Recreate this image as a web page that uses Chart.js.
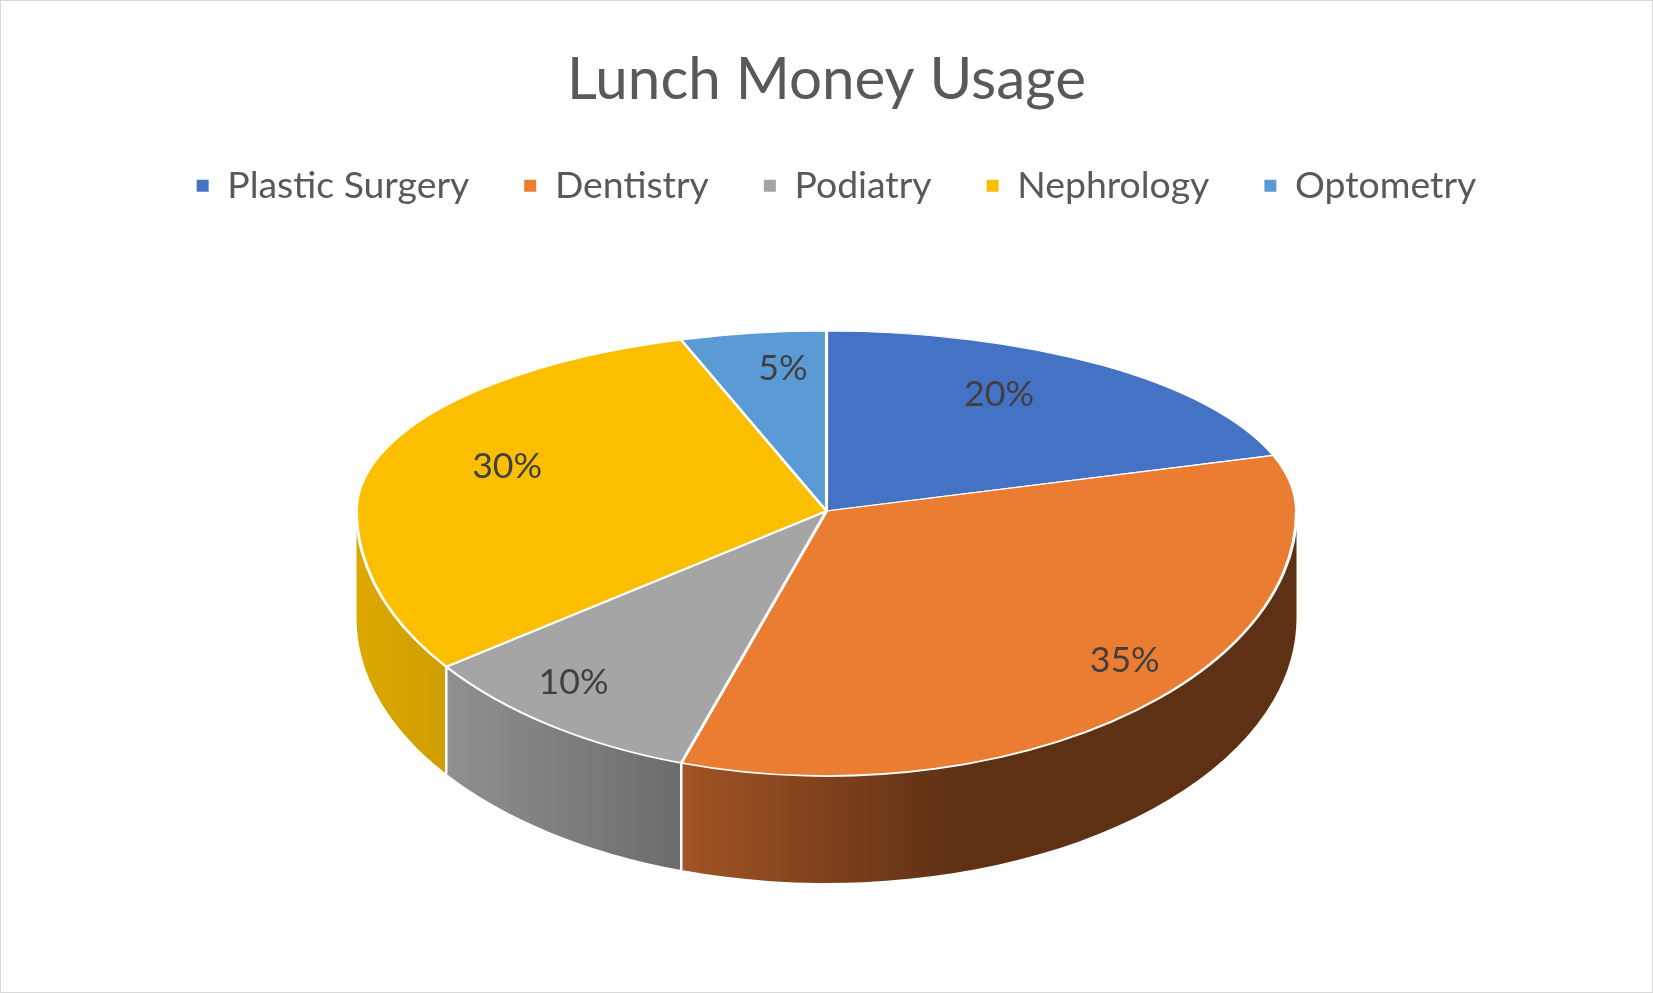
<!DOCTYPE html>
<html>
<head>
<meta charset="utf-8">
<title>Lunch Money Usage</title>
<script src="https://cdn.jsdelivr.net/npm/chart.js@4.4.1/dist/chart.umd.min.js"></script>
<style>
  html, body { margin: 0; padding: 0; background: #fff; }
  #wrap { width: 1653px; height: 993px; box-sizing: border-box; border: 1px solid #d9d9d9; }
</style>
</head>
<body>
<div id="wrap"><canvas id="pieChart" width="1651" height="991"></canvas></div>
<script>
// Data
const categories = ["Plastic Surgery", "Dentistry", "Podiatry", "Nephrology", "Optometry"];
const shares = [20, 35, 10, 30, 5];
const sliceColors = ["#4472C4", "#EB7D33", "#A5A5A5", "#FBBF00", "#5B9BD5"];
// side wall shading, light -> dark
const wallColors = [
    ["#2F528F", "#203864"],
    ["#A35425", "#5E3014"],
    ["#909090", "#6C6C6C"],
    ["#DCA800", "#CF9E00"],
    ["#41719C", "#2E5071"]
];

const FONT = "Lato, 'Open Sans', sans-serif";

// pick a font size so a string spans a given width
function fitSize(text, width) {
    const c = document.createElement("canvas").getContext("2d");
    c.font = "100px " + FONT;
    return 100 * width / c.measureText(text).width;
}
const titleSize = fitSize("Lunch Money Usage", 519);
const legendSize = fitSize("Plastic Surgery", 242);
const labelSize = fitSize("20%", 70);

// fake 3D: squash the pie into an ellipse and draw side walls under it
const pie3d = {
    id: "pie3d",
    afterLayout(chart, args, opts) {
        chart.legend.left += opts.legendShift;
        chart.legend.right += opts.legendShift;
    },
    beforeDatasetDraw(chart, args, opts) {
        const ctx = chart.ctx;
        const meta = args.meta;
        const first = meta.data[0];
        const px = first.x, py = first.y, r = first.outerRadius;
        const cx = chart.width / 2, cy = opts.cy;

        // walls on the front half
        const bounds = [];
        meta.data.forEach((arc, i) => {
            const a0 = Math.max(arc.startAngle, 0);
            const a1 = Math.min(arc.endAngle, Math.PI);
            if (a1 <= a0) return;
            const xl = cx + opts.rx * Math.cos(a1);
            const xr = cx + opts.rx * Math.cos(a0);
            const g = ctx.createLinearGradient(xl, 0, xr, 0);
            g.addColorStop(0, wallColors[i][0]);
            g.addColorStop(opts.wallStop[i], wallColors[i][1]);
            g.addColorStop(1, wallColors[i][1]);
            ctx.save();
            ctx.beginPath();
            ctx.ellipse(cx, cy, opts.rx, opts.ryBottom, 0, a0, a1);
            ctx.ellipse(cx, cy + opts.depth, opts.rx, opts.ryBottom, 0, a1, a0, true);
            ctx.closePath();
            ctx.fillStyle = g;
            ctx.fill();
            ctx.restore();
            if (a0 > 0) bounds.push(a0);
        });
        ctx.save();
        ctx.strokeStyle = "#fff";
        ctx.lineWidth = 2.5;
        bounds.forEach(a => {
            const x = cx + opts.rx * Math.cos(a);
            const y = cy + opts.ryBottom * Math.sin(a);
            ctx.beginPath();
            ctx.moveTo(x, y);
            ctx.lineTo(x, y + opts.depth);
            ctx.stroke();
        });
        ctx.restore();

        // top face: back half and front half with their own tilt
        [[opts.ryBottom, cy - 1, chart.height], [opts.ryTop, 0, cy + 0.5]].forEach(([ry, y0, y1]) => {
            ctx.save();
            ctx.beginPath();
            ctx.rect(0, y0, chart.width, y1 - y0);
            ctx.clip();
            ctx.translate(cx, cy);
            ctx.scale(opts.rx / r, ry / r);
            ctx.translate(-px, -py);
            meta.controller.draw();
            ctx.restore();
        });
        return false;
    },
    afterDraw(chart, args, opts) {
        const ctx = chart.ctx;
        const meta = chart.getDatasetMeta(0);
        const total = shares.reduce((s, v) => s + v, 0);
        const cx = chart.width / 2, cy = opts.cy;
        ctx.save();
        ctx.font = labelSize.toFixed(1) + "px " + FONT;
        ctx.fillStyle = "#404040";
        ctx.textAlign = "center";
        ctx.textBaseline = "middle";
        meta.data.forEach((arc, i) => {
            const a = (arc.startAngle + arc.endAngle) / 2;
            const s = Math.sin(a);
            const fx = opts.labelX + opts.labelSkew * s;
            const ry = s < 0 ? opts.ryTop : opts.ryBottom;
            const x = cx + opts.rx * fx * Math.cos(a);
            const y = cy + ry * opts.labelY * s;
            ctx.fillText(Math.round(shares[i] / total * 100) + "%", x, y);
        });
        ctx.restore();
    }
};

const ctx = document.getElementById("pieChart").getContext("2d");
new Chart(ctx, {
    type: "pie",
    data: {
        labels: categories,
        datasets: [
            {
                data: shares,
                backgroundColor: sliceColors,
                borderColor: "#ffffff",
                borderWidth: 2.5
            }
        ]
    },
    options: {
        responsive: false,
        animation: false,
        events: [],
        layout: { padding: { top: 0, bottom: 20 } },
        plugins: {
            title: {
                display: true,
                text: "Lunch Money Usage",
                color: "#595959",
                font: { family: FONT, size: titleSize, weight: "normal" },
                padding: { top: 79 - titleSize * 0.6, bottom: -3 }
            },
            legend: {
                position: "top",
                labels: {
                    color: "#595959",
                    font: { family: FONT, size: legendSize },
                    boxWidth: 12,
                    boxHeight: 12,
                    padding: 55,
                    generateLabels(chart) {
                        return categories.map((c, i) => ({
                            text: c,
                            fillStyle: sliceColors[i],
                            strokeStyle: sliceColors[i],
                            lineWidth: 0,
                            fontColor: "#595959",
                            index: i
                        }));
                    }
                }
            },
            tooltip: { enabled: false },
            pie3d: {
                cy: 510,
                rx: 470,
                ryTop: 180,
                ryBottom: 265,
                depth: 107,
                wallStop: [1, 0.45, 1, 1, 1],
                labelX: 0.77,
                labelSkew: 0.18,
                labelY: 0.8,
                legendShift: 10
            }
        }
    },
    plugins: [pie3d]
});
</script>
</body>
</html>
